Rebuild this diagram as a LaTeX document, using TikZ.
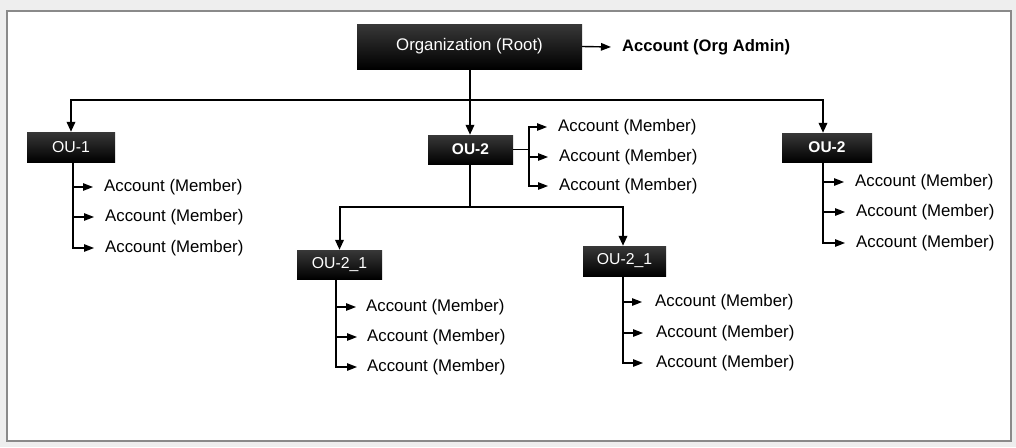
\documentclass[tikz,border=0pt]{standalone}
\usepackage{fontspec}
\setmainfont{Liberation Sans}
\usetikzlibrary{arrows.meta}
\definecolor{bgout}{HTML}{EEEEEE}
\definecolor{framec}{HTML}{8A8A8A}
\begin{document}
\begin{tikzpicture}[x=1pt,y=-1pt,
  ouBox/.style={rectangle, inner sep=0pt, top color=black!78, bottom color=black, draw=none,
     text=white, font=\fontsize{15.8}{18}\selectfont},
  member/.style={anchor=west, inner sep=0pt, font=\fontsize{16.8}{20}\selectfont},
  mainline/.style={line width=2pt},
  mainarr/.style={line width=2pt, -{Triangle[length=10pt,width=8.5pt]}},
  memarr/.style={line width=1.3pt, -{Triangle[length=10pt,width=7.5pt]}}]
\useasboundingbox (0,0) rectangle (1016,447);
\fill[bgout] (0,0) rectangle (1016,447);
\draw[framec, line width=2pt, fill=white] (7,11) rectangle (1011,441);

% boxes
\node[ouBox, minimum width=225pt, minimum height=45pt, font=\fontsize{16.8}{20}\selectfont] (root) at (469.5,46.5) {Organization (Root)};
\node[anchor=west, inner sep=0pt, font=\bfseries\fontsize{16.6}{20}\selectfont] (admin) at (622,47) {Account (Org Admin)};

\node[ouBox, minimum width=88pt, minimum height=30pt] (ou1) at (71,147) {OU-1};
\node[ouBox, minimum width=85pt, minimum height=29pt, font=\bfseries\fontsize{15.5}{18}\selectfont] (ou2m) at (470.5,149.5) {OU-2};
\node[ouBox, minimum width=90pt, minimum height=29pt, font=\bfseries\fontsize{15.5}{18}\selectfont] (ou2r) at (827,147.5) {OU-2};
\node[ouBox, minimum width=85pt, minimum height=29pt] (ou21l) at (339.5,264.5) {OU-2\_1};
\node[ouBox, minimum width=83pt, minimum height=30pt] (ou21r) at (624.5,261) {OU-2\_1};

% members
\node[member] (m11) at (104,187) {Account (Member)};
\node[member] (m12) at (105,217) {Account (Member)};
\node[member] (m13) at (105,248) {Account (Member)};

\node[member] (m21) at (558,127) {Account (Member)};
\node[member] (m22) at (559,157) {Account (Member)};
\node[member] (m23) at (559,186) {Account (Member)};

\node[member] (m31) at (855,182) {Account (Member)};
\node[member] (m32) at (856,212) {Account (Member)};
\node[member] (m33) at (856,243) {Account (Member)};

\node[member] (m41) at (366,307) {Account (Member)};
\node[member] (m42) at (367,337) {Account (Member)};
\node[member] (m43) at (367,367) {Account (Member)};

\node[member] (m51) at (655,302) {Account (Member)};
\node[member] (m52) at (656,333) {Account (Member)};
\node[member] (m53) at (656,363) {Account (Member)};

% main connectors
\draw[memarr, line width=1.4pt] (root.east) -- ([xshift=-11pt]admin.west);
\coordinate (bus1) at (470,100);
\draw[mainline] (root.south -| bus1) -- (bus1);
\draw[mainarr] (bus1) -| ([xshift=0pt]ou1.north);
\draw[mainarr] (bus1) -| ([xshift=-4pt]ou2r.north);
\draw[mainarr] (bus1) -- (bus1 |- ou2m.north);

\coordinate (bus2) at (470,207);
\draw[mainline] (ou2m.south -| bus2) -- (bus2);
\draw[mainarr] (bus2) -| (ou21l.north);
\draw[mainarr] (bus2) -| ([xshift=-1.5pt]ou21r.north);

% member connectors
\foreach \m in {m11,m12,m13}
  \draw[memarr] ([xshift=2pt]ou1.south) |- ([xshift=-11pt]\m.west);
\coordinate (j2) at (529,149.5);
\draw[line width=1.3pt] (ou2m.east) -- (j2);
\foreach \m in {m21,m22,m23}
  \draw[memarr] (j2) |- ([xshift=-11pt]\m.west);
\foreach \m in {m31,m32,m33}
  \draw[memarr] ([xshift=-4pt]ou2r.south) |- ([xshift=-11pt]\m.west);
\foreach \m in {m41,m42,m43}
  \draw[memarr] ([xshift=-3.5pt]ou21l.south) |- ([xshift=-10pt]\m.west);
\foreach \m in {m51,m52,m53}
  \draw[memarr] ([xshift=-1.5pt]ou21r.south) |- ([xshift=-13pt]\m.west);
\end{tikzpicture}
\end{document}
